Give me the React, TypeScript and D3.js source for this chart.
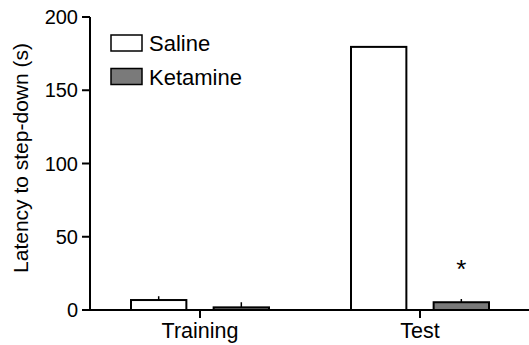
import React from 'react';
import { scaleBand, scaleLinear } from 'd3';

const phases = ['Training', 'Test'];
const groups = ['Saline', 'Ketamine'];
const means = {
  Saline: [6.8, 179.6],
  Ketamine: [1.8, 5.3],
};
const sems = {
  Saline: [2.6, 0],
  Ketamine: [3.5, 2.2],
};
const yTicks = [0, 50, 100, 150, 200];
const fills = { Saline: '#ffffff', Ketamine: '#7a7a7a' };
const starred = [{ phase: 'Test', group: 'Ketamine' }];

const width = 529;
const height = 345;
const axisX = 90;
const font = '"Liberation Sans", Arial, sans-serif';

const y = scaleLinear().domain([0, 200]).range([310, 17]);
const x = scaleBand().domain(phases).range([axisX, 530]);
const inner = scaleBand().domain(groups).range([-69, 69]).paddingInner(0.33);

const App = () => {
  const y0 = y(0);
  return (
    <svg width={width} height={height} style={{ position: 'absolute', left: 0, top: 0 }} fontFamily={font}>
      <rect width={width} height={height} fill="#fff" />

      {phases.map((p, i) => (
        <g key={p} transform={`translate(${x(p) + x.bandwidth() / 2},0)`}>
          {groups.map(g => {
            const bx = inner(g);
            const v = means[g][i];
            const e = sems[g][i];
            const cx = bx + inner.bandwidth() / 2;
            return (
              <g key={g}>
                <rect
                  x={bx}
                  y={y(v)}
                  width={inner.bandwidth()}
                  height={y0 - y(v)}
                  fill={fills[g]}
                  stroke="#000"
                  strokeWidth={2}
                />
                {e > 0 && (
                  <line x1={cx} x2={cx} y1={y(v)} y2={y(v + e)} stroke="#000" strokeWidth={1.5} />
                )}
                {starred.some(s => s.phase === p && s.group === g) && (
                  <text x={cx} y={y(v + e) - 21} textAnchor="middle" fontSize={26} fill="#000">
                    *
                  </text>
                )}
              </g>
            );
          })}
          <line x1={0} x2={0} y1={y0} y2={y0 + 8} stroke="#000" strokeWidth={2} />
          <text x={0} y={338} textAnchor="middle" fontSize={21.5} fill="#000">
            {p}
          </text>
        </g>
      ))}

      {/* axes */}
      <line x1={axisX} x2={axisX} y1={y(200)} y2={y0} stroke="#000" strokeWidth={2} />
      <line x1={axisX - 1} x2={width} y1={y0} y2={y0} stroke="#000" strokeWidth={2} />
      {yTicks.map(t => (
        <g key={t} transform={`translate(0,${y(t)})`}>
          <line x1={axisX - 8} x2={axisX} stroke="#000" strokeWidth={2} />
          <text x={axisX - 12} dy="0.36em" textAnchor="end" fontSize={20} fill="#000">
            {t}
          </text>
        </g>
      ))}
      <text
        transform={`translate(28,158) rotate(-90)`}
        textAnchor="middle"
        fontSize={21}
        fill="#000"
      >
        Latency to step-down (s)
      </text>

      {/* legend */}
      {groups.map((g, i) => (
        <g key={g} transform={`translate(111,${35 + i * 33.5})`}>
          <rect width={31} height={16} fill={fills[g]} stroke="#000" strokeWidth={1.5} />
          <text x={38} y={16} fontSize={22} fill="#000">
            {g}
          </text>
        </g>
      ))}
    </svg>
  );
};

export default App;
